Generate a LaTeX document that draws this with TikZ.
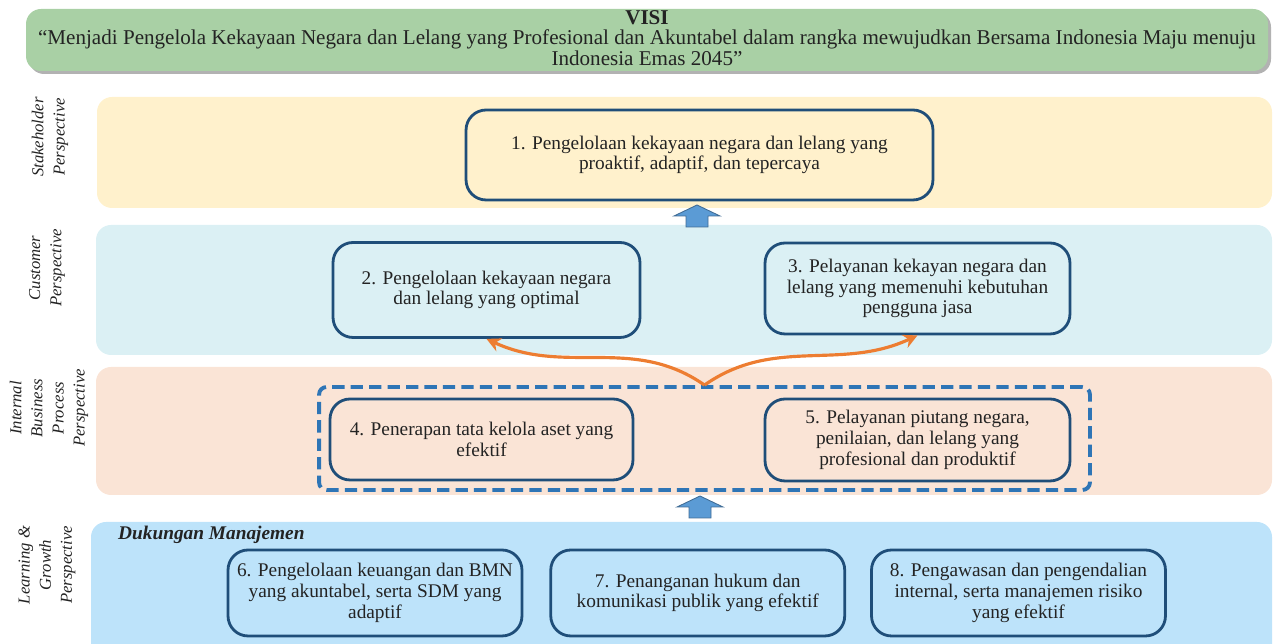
\documentclass[tikz,border=0pt]{standalone}
\usepackage{fontspec}
\setmainfont{Liberation Serif}
\usepackage{xcolor}
\usepackage{tikz}
\usetikzlibrary{shapes,arrows.meta,positioning}

\definecolor{visigreen}{RGB}{169,208,165}
\definecolor{stakeyel}{RGB}{255,241,204}
\definecolor{custcyan}{RGB}{219,240,244}
\definecolor{intpeach}{RGB}{250,228,214}
\definecolor{learnblue}{RGB}{189,227,250}
\definecolor{boxblue}{RGB}{31,78,121}
\definecolor{dashblue}{RGB}{46,117,182}
\definecolor{flowor}{RGB}{237,125,49}
\definecolor{arrblue}{RGB}{91,155,213}
\definecolor{txtgray}{RGB}{35,35,35}

\begin{document}
\begin{tikzpicture}[x=0.02cm,y=-0.02cm,
    band/.style={rounded corners=0.3cm},
    objbox/.style={draw=boxblue,line width=1.6pt,rounded corners=0.4cm,align=center,
        font=\fontsize{11}{11.8}\selectfont,text=txtgray,inner sep=2pt},
    grpbox/.style={draw=dashblue,line width=2.2pt,dash pattern=on 7pt off 3.5pt,
        rounded corners=0.15cm},
    persp/.style={rotate=90,align=center,font=\fontsize{9.5}{12}\selectfont\itshape,text=txtgray},
    uparrow/.style={fill=arrblue,draw=arrblue!70!black,line width=0.5pt},
    flow/.style={draw=flowor,line width=1.8pt,-{Stealth[length=8pt,width=8pt]}}
]
    \clip (0,0) rectangle (1275,644);

    % Visi band
    \fill[black!30,band] (29,12) rectangle (1271,74);
    \fill[visigreen,band] (26,9) rectangle (1268,71);
    \node[align=center,text=txtgray,font=\fontsize{12}{11.6}\selectfont] (visi) at (647,38)
        {\textbf{VISI}\\“Menjadi Pengelola Kekayaan Negara dan Lelang yang Profesional dan Akuntabel dalam rangka mewujudkan Bersama Indonesia Maju menuju\\Indonesia Emas 2045”};

    % Perspective bands
    \fill[stakeyel,band] (97,97) rectangle (1272,208);
    \fill[custcyan,band] (96,225) rectangle (1272,355);
    \fill[intpeach,band] (96,367) rectangle (1272,495);
    \fill[learnblue,band] (91,522) rectangle (1272,660);

    % Perspective labels
    \node[persp] (lstake) at (50,137) {Stakeholder\\Perspective};
    \node[persp] (lcust) at (47,268) {Customer\\Perspective};
    \node[persp] (lint) at (49,408) {Internal\\Business\\Process\\Perspective};
    \node[persp] (llearn) at (47,565) {Learning \&\\Growth\\Perspective};

    % Objectives
    \node[objbox,minimum width=9.34cm,minimum height=1.8cm] (b1) at (699.5,155)
        {1. Pengelolaan kekayaan negara dan lelang yang\\proaktif, adaptif, dan tepercaya};
    \node[objbox,minimum width=6.14cm,minimum height=1.9cm] (b2) at (486.5,290)
        {2. Pengelolaan kekayaan negara\\dan lelang yang optimal};
    \node[objbox,minimum width=6.1cm,minimum height=1.82cm] (b3) at (917.5,288.5)
        {3. Pelayanan kekayan negara dan\\lelang yang memenuhi kebutuhan\\pengguna jasa};
    \node[objbox,minimum width=6.06cm,minimum height=1.62cm] (b4) at (481.5,439.5)
        {4. Penerapan tata kelola aset yang\\efektif};
    \node[objbox,minimum width=6.1cm,minimum height=1.64cm] (b5) at (917.5,440)
        {5. Pelayanan piutang negara,\\penilaian, dan lelang yang\\profesional dan produktif};
    \node[grpbox,minimum width=15.42cm,minimum height=2.06cm] (grp) at (704.5,438.5) {};

    % Dukungan manajemen
    \node[anchor=west,text=txtgray,font=\fontsize{11}{12}\selectfont\bfseries\itshape] (dm) at (112,535)
        {Dukungan Manajemen};
    \node[objbox,minimum width=5.88cm,minimum height=1.72cm] (b6) at (375,593)
        {6. Pengelolaan keuangan dan BMN\\yang akuntabel, serta SDM yang\\adaptif};
    \node[objbox,minimum width=5.88cm,minimum height=1.72cm,right=0.52cm of b6] (b7)
        {7. Penanganan hukum dan\\komunikasi publik yang efektif};
    \node[objbox,minimum width=5.88cm,minimum height=1.72cm,right=0.48cm of b7] (b8)
        {8. Pengawasan dan pengendalian\\internal, serta manajemen risiko\\yang efektif};

    % Block arrows upward
    \foreach \ax/\ay/\nm in {697/216/up1,700/507/up2} {
        \coordinate (\nm) at (\ax,\ay);
        \draw[uparrow] ([shift={(-11,11)}]\nm) -- ([shift={(-11,0)}]\nm) -- ([shift={(-23,0)}]\nm)
            -- ([shift={(0,-11)}]\nm) -- ([shift={(23,0)}]\nm) -- ([shift={(11,0)}]\nm)
            -- ([shift={(11,11)}]\nm) -- cycle;
    }

    % Links
    \draw[flow] (grp.north) to[out=145,in=-25] (b2.south);
    \draw[flow] (grp.north) to[out=35,in=205] (b3.south);
\end{tikzpicture}
\end{document}
